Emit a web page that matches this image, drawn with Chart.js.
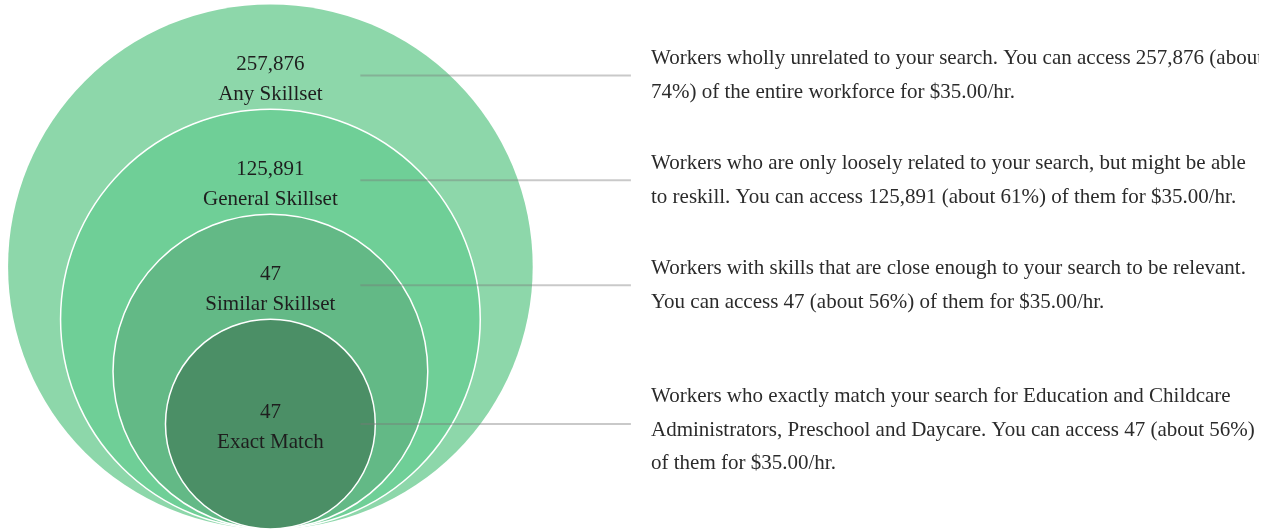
<!DOCTYPE html>
<html>
<head>
<meta charset="utf-8">
<script src="https://cdn.jsdelivr.net/npm/chart.js@4"></script>
<style>
  html, body { margin: 0; padding: 0; background: #ffffff; }
  #wrap { width: 1268px; height: 529px; position: relative; overflow: hidden; }
</style>
</head>
<body>
<div id="wrap"><canvas id="c" width="1268" height="529"></canvas></div>
<script>
// ---- data ----
const categories = ['Any Skillset', 'General Skillset', 'Similar Skillset', 'Exact Match'];
const counts = [257876, 125891, 47, 47];
const descriptions = [
  ['Workers wholly unrelated to your search. You can access 257,876 (about',
   '74%) of the entire workforce for $35.00/hr.'],
  ['Workers who are only loosely related to your search, but might be able',
   'to reskill. You can access 125,891 (about 61%) of them for $35.00/hr.'],
  ['Workers with skills that are close enough to your search to be relevant.',
   'You can access 47 (about 56%) of them for $35.00/hr.'],
  ['Workers who exactly match your search for Education and Childcare',
   'Administrators, Preschool and Daycare. You can access 47 (about 56%)',
   'of them for $35.00/hr.']
];

// ---- layout / style (not data) ----
const ringSize = [5, 4, 3, 2];            // nesting rank -> radius in layout units
const UNIT_PX = 52.46;
const CENTER_X_PX = 270.4;
const W = 1268, H = 529;
const colors = ['#8dd7aa', '#6fcf97', '#63b986', '#4b8f66'];
const FONT = '21px "Liberation Serif", "Times New Roman", serif';
const fmt = n => n.toLocaleString('en-US');

// radius in pixels of a ring, measured through the chart's x scale
function ringRadiusPx(chart, i) {
  const s = chart.scales && chart.scales.x;
  if (!s) return 0;
  const v = s.getPixelForValue(ringSize[i]) - s.getPixelForValue(0);
  return isFinite(v) ? v : 0;
}

const overlay = {
  id: 'overlay',
  afterDatasetsDraw(chart) {
    const ctx = chart.ctx;
    const meta = chart.getDatasetMeta(0);
    ctx.save();
    ctx.font = FONT;
    meta.data.forEach((el, i) => {
      const cx = el.x, cy = el.y, r = ringRadiusPx(chart, i);
      const top = cy - r;
      let numY, nameY, lineY;
      if (i < meta.data.length - 1) {
        numY = top + 60; nameY = top + 90; lineY = top + 71;
      } else {
        numY = cy - 12; nameY = cy + 18; lineY = cy;
      }
      ctx.fillStyle = '#1e1e1e';
      ctx.textAlign = 'center';
      ctx.textBaseline = 'middle';
      ctx.fillText(fmt(counts[i]), cx, numY);
      ctx.fillText(categories[i], cx, nameY);
      ctx.strokeStyle = 'rgba(120,120,120,0.4)';
      ctx.lineWidth = 2;
      ctx.beginPath();
      ctx.moveTo(cx + 90, lineY);
      ctx.lineTo(cx + 360.5, lineY);
      ctx.stroke();
      const lines = descriptions[i];
      const lh = 33.5;
      const blockC = lineY + (lines.length - 2) * 6;
      ctx.save();
      ctx.beginPath();
      ctx.rect(0, 0, 1259, H);
      ctx.clip();
      ctx.fillStyle = '#2b2b2b';
      ctx.textAlign = 'left';
      lines.forEach((t, j) => {
        ctx.fillText(t, cx + 380.6, blockC + (j - (lines.length - 1) / 2) * lh);
      });
      ctx.restore();
    });
    ctx.restore();
  }
};

const chart = new Chart(document.getElementById('c'), {
  type: 'bubble',
  data: {
    datasets: [{
      data: ringSize.map(s => ({ x: 0, y: s })),
      backgroundColor: colors,
      borderColor: ['rgba(255,255,255,0)', '#ffffff', '#ffffff', '#ffffff'],
      borderWidth: 1.5,
      clip: false
    }]
  },
  options: {
    responsive: false,
    animation: false,
    events: [],
    layout: { padding: 0, autoPadding: false },
    plugins: { legend: { display: false }, tooltip: { enabled: false } },
    scales: {
      x: { type: 'linear', display: false, min: -CENTER_X_PX / UNIT_PX, max: (W - CENTER_X_PX) / UNIT_PX },
      y: { type: 'linear', display: false, min: 0, max: H / UNIT_PX }
    }
  },
  plugins: [overlay]
});
// once the scales are laid out, give each bubble its radius measured on the x scale
chart.data.datasets[0].data.forEach((p, i) => { p.r = ringRadiusPx(chart, i); });
chart.update();
</script>
</body>
</html>
